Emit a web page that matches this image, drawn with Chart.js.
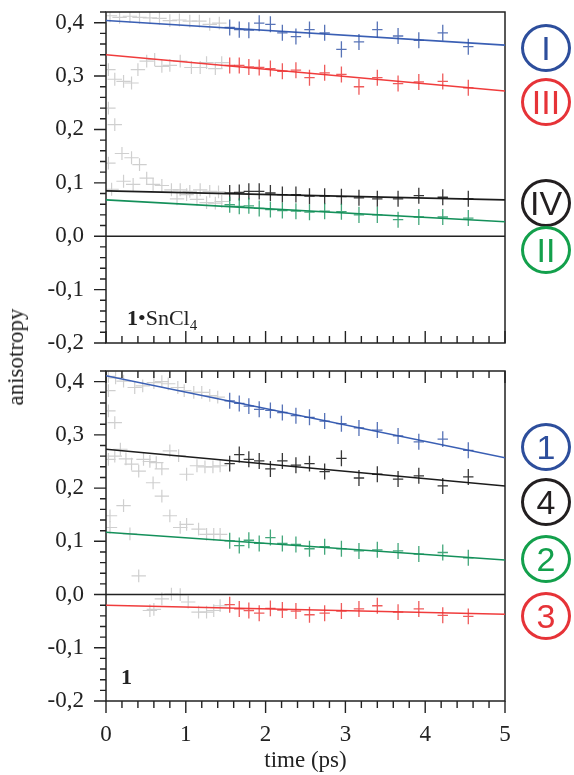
<!DOCTYPE html>
<html>
<head>
<meta charset="utf-8">
<script src="https://cdn.jsdelivr.net/npm/chart.js@4.4.0/dist/chart.umd.min.js"></script>
<style>
  body { margin: 0; background: #fff; width: 574px; height: 775px; position: relative; overflow: hidden; font-family: "Liberation Serif", serif; color: #222; }
  canvas { position: absolute; left: 0; }
  #top { top: -40px; }
  #bot { top: 320px; }
  .ring { position: absolute; left: 521px; width: 44px; height: 42px; border: 3px solid; border-radius: 50%;
          text-align: center; font-family: "Liberation Sans", Arial, sans-serif; font-size: 34px; line-height: 43px; }
  .blue { color: #2d4e9c; border-color: #2d4e9c; }
  .red { color: #e63338; border-color: #e63338; }
  .black { color: #231f20; border-color: #231f20; }
  .green { color: #13a04c; border-color: #13a04c; }
  .tag { position: absolute; font-size: 22px; }
  #ylab { position: absolute; left: 16px; top: 357px; font-size: 23px; transform: translate(-50%, -50%) rotate(-90deg); white-space: nowrap; }
</style>
</head>
<body>
<canvas id="top" width="574" height="420"></canvas>
<canvas id="bot" width="574" height="455"></canvas>

<div id="ylab">anisotropy</div>
<div class="tag" style="left:127px; top:305px;"><b>1</b>•SnCl<sub style="font-size:15px;">4</sub></div>
<div class="tag" style="left:121px; top:664px;"><b>1</b></div>

<div class="ring blue" style="top:24px;">I</div>
<div class="ring red" style="top:78px;">III</div>
<div class="ring black" style="top:179px;">IV</div>
<div class="ring green" style="top:226px;">II</div>

<div class="ring blue" style="top:423px;">1</div>
<div class="ring black" style="top:478px;">4</div>
<div class="ring green" style="top:535px;">2</div>
<div class="ring red" style="top:592px;">3</div>

<script>
// delay times (ps) of the fitted window
var time = [1.55, 1.67, 1.79, 1.92, 2.06, 2.21, 2.38, 2.55, 2.74, 2.95, 3.17, 3.40, 3.66, 3.92, 4.22, 4.54];

// 1•SnCl4
var anisoI   = [0.391, 0.387, 0.386, 0.399, 0.397, 0.381, 0.374, 0.387, 0.381, 0.350, 0.364, 0.387, 0.375, 0.367, 0.381, 0.355];
var anisoII  = [0.059, 0.056, 0.057, 0.052, 0.050, 0.048, 0.047, 0.045, 0.047, 0.046, 0.040, 0.040, 0.031, 0.036, 0.036, 0.034];
var anisoIII = [0.320, 0.320, 0.317, 0.316, 0.314, 0.309, 0.311, 0.297, 0.306, 0.303, 0.280, 0.297, 0.286, 0.289, 0.290, 0.278];
var anisoIV  = [0.081, 0.082, 0.084, 0.084, 0.081, 0.078, 0.078, 0.075, 0.075, 0.074, 0.072, 0.070, 0.070, 0.076, 0.073, 0.070];

// 1
var aniso1 = [0.364, 0.359, 0.354, 0.348, 0.346, 0.342, 0.336, 0.333, 0.326, 0.321, 0.313, 0.309, 0.298, 0.287, 0.292, 0.271];
var aniso2 = [0.101, 0.092, 0.102, 0.096, 0.107, 0.096, 0.094, 0.086, 0.090, 0.086, 0.082, 0.084, 0.082, 0.076, 0.079, 0.069];
var aniso3 = [-0.019, -0.027, -0.030, -0.035, -0.026, -0.029, -0.031, -0.038, -0.035, -0.031, -0.027, -0.021, -0.033, -0.027, -0.039, -0.041];
var aniso4 = [0.246, 0.263, 0.254, 0.251, 0.236, 0.251, 0.243, 0.246, 0.231, 0.256, 0.219, 0.226, 0.217, 0.223, 0.204, 0.221];

// linear fits, value at t = 0 and t = 5
var fitEnds = [0, 5];
var fitI = [0.404, 0.358], fitII = [0.068, 0.027], fitIII = [0.340, 0.272], fitIV = [0.085, 0.068];
var fit1 = [0.411, 0.257], fit2 = [0.117, 0.065], fit3 = [-0.020, -0.037], fit4 = [0.273, 0.204];

// early times left out of the fits (grey)
var earlyTopT = [0.05, 0.17, 0.30, 0.42, 0.55, 0.67, 0.80, 0.92, 1.05, 1.17, 1.30, 1.42,
                 0.03, 0.11, 0.22, 0.32, 0.40, 0.51, 0.61, 0.70, 0.80, 0.93, 1.07, 1.18, 1.26, 1.37, 1.45,
                 0.03, 0.11, 0.03, 0.20, 0.32, 0.42,
                 0.07, 0.22, 0.34, 0.51, 0.59, 0.70, 0.82, 0.93, 1.05, 1.18, 1.30, 1.41,
                 0.89, 1.01, 1.14, 1.26, 1.37, 1.45];
var earlyTopV = [0.413, 0.410, 0.412, 0.410, 0.409, 0.408, 0.404, 0.405, 0.403, 0.403, 0.397, 0.399,
                 0.312, 0.294, 0.290, 0.287, 0.312, 0.328, 0.331, 0.318, 0.320, 0.328, 0.316, 0.316, 0.325, 0.314, 0.325,
                 0.240, 0.209, 0.137, 0.155, 0.147, 0.134,
                 0.088, 0.103, 0.097, 0.109, 0.097, 0.095, 0.087, 0.087, 0.084, 0.087, 0.084, 0.083,
                 0.070, 0.078, 0.069, 0.063, 0.062, 0.065];
var earlyBotT = [0.03, 0.12, 0.22, 0.36, 0.46, 0.60, 0.70, 0.78, 0.90, 0.98, 1.10, 1.20, 1.30, 1.40, 0.03, 0.03, 0.11,
                 0.03, 0.11, 0.18, 0.25, 0.32, 0.41, 0.47, 0.55, 0.63, 0.70, 0.80, 0.91, 1.01, 1.14, 1.24, 1.34, 1.43,
                 0.05, 0.05, 0.22, 0.59, 0.70, 0.80, 0.93, 1.01, 1.16, 1.26, 1.35, 1.43, 0.30, 0.41,
                 0.55, 0.60, 0.70, 0.82, 0.93, 1.03, 1.16, 1.26, 1.35, 1.43];
var earlyBotV = [0.410, 0.407, 0.401, 0.389, 0.392, 0.398, 0.400, 0.396, 0.389, 0.383, 0.380, 0.380, 0.374, 0.371, 0.383, 0.345, 0.323,
                 0.254, 0.260, 0.273, 0.255, 0.245, 0.232, 0.254, 0.250, 0.248, 0.236, 0.270, 0.261, 0.226, 0.242, 0.240, 0.240, 0.242,
                 0.148, 0.126, 0.167, 0.210, 0.185, 0.148, 0.126, 0.132, 0.123, 0.113, 0.113, 0.113, 0.114, 0.035,
                 -0.030, -0.028, -0.008, 0.001, 0.000, -0.014, -0.033, -0.033, -0.030, -0.021];

var yTicks = [-0.2, -0.1, 0, 0.1, 0.2, 0.3, 0.4];
var xTicks = [0, 1, 2, 3, 4, 5];

function pts(t, v) {
    return t.map(function (x, i) { return { x: x, y: v[i] }; });
}

function points(vals, color) {
    return { data: pts(time, vals), pointRadius: 0, showLine: false,
             err: { dx: 0.065, dy: 0.015, color: color, width: 1.3 } };
}

function early(t, v) {
    return { data: pts(t, v), pointRadius: 0, showLine: false,
             err: { dx: 0.09, dy: 0.012, color: '#cfcfcf', width: 1.2, under: true } };
}

function fit(ends, color) {
    return { data: pts(fitEnds, ends), showLine: true, borderColor: color, borderWidth: 1.6, pointRadius: 0 };
}

function drawCrosses(chart, under) {
    var ctx = chart.ctx, a = chart.chartArea, x = chart.scales.x, y = chart.scales.y;
    ctx.save();
    ctx.beginPath();
    ctx.rect(a.left, a.top, a.right - a.left, a.bottom - a.top);
    ctx.clip();
    chart.data.datasets.forEach(function (ds) {
        if (!ds.err || !!ds.err.under !== under) return;
        ctx.strokeStyle = ds.err.color;
        ctx.lineWidth = ds.err.width;
        ds.data.forEach(function (p) {
            var px = x.getPixelForValue(p.x), py = y.getPixelForValue(p.y);
            var hx = x.getPixelForValue(p.x + ds.err.dx) - px;
            var hy = py - y.getPixelForValue(p.y + ds.err.dy);
            ctx.beginPath();
            ctx.moveTo(px - hx, py); ctx.lineTo(px + hx, py);
            ctx.moveTo(px, py - hy); ctx.lineTo(px, py + hy);
            ctx.stroke();
        });
    });
    ctx.restore();
}

// frame, zero line, tick marks and error crosses
var panelDraw = {
    id: 'panelDraw',
    beforeDatasetsDraw: function (chart, args, o) {
        var ctx = chart.ctx, a = chart.chartArea, x = chart.scales.x, y = chart.scales.y;
        drawCrosses(chart, true);
        ctx.save();
        ctx.strokeStyle = '#222';
        ctx.lineWidth = 1.5;
        ctx.strokeRect(a.left, a.top, a.right - a.left, a.bottom - a.top);
        var y0 = y.getPixelForValue(0);
        ctx.beginPath(); ctx.moveTo(a.left, y0); ctx.lineTo(a.right, y0); ctx.stroke();

        ctx.lineWidth = 1.4;
        ctx.beginPath();
        for (var i = 0; i <= 31; i++) {
            var py = y.getPixelForValue(-0.2 + i * 0.02);
            ctx.moveTo(a.left, py);
            ctx.lineTo(a.left - (i % 5 === 0 ? 12 : 6), py);
        }
        for (var j = 0; j <= 25; j++) {
            var px = x.getPixelForValue(j * 0.2);
            var len = j % 5 === 0 ? 12 : 7;
            if (o.bottom === 'in') { ctx.moveTo(px, a.bottom); ctx.lineTo(px, a.bottom - len); }
            if (o.bottom === 'out') { ctx.moveTo(px, a.bottom); ctx.lineTo(px, a.bottom + len); }
            if (o.top === 'in') { ctx.moveTo(px, a.top); ctx.lineTo(px, a.top + len); }
        }
        ctx.stroke();
        ctx.restore();
    },
    afterDatasetsDraw: function (chart) {
        drawCrosses(chart, false);
    }
};

var serif = { family: 'Liberation Serif', size: 23 };

function yScale() {
    return {
        min: -0.2, max: 0.42,
        afterBuildTicks: function (s) { s.ticks = yTicks.map(function (v) { return { value: v }; }); },
        afterFit: function (s) { s.width = 106; },
        grid: { display: false, drawTicks: false },
        border: { display: false },
        ticks: { padding: 22, color: '#222', font: serif,
                 callback: function (v) { return v.toFixed(1).replace('.', ','); } }
    };
}

new Chart(document.getElementById('top').getContext('2d'), {
    type: 'scatter',
    data: {
        datasets: [
            early(earlyTopT, earlyTopV),
            fit(fitI, '#3a5fb4'), fit(fitIII, '#f03c3c'), fit(fitIV, '#1c1c1c'), fit(fitII, '#14905a'),
            points(anisoI, 'rgba(45,80,165,0.8)'), points(anisoIII, 'rgba(235,50,50,0.8)'),
            points(anisoIV, 'rgba(20,20,20,0.85)'), points(anisoII, 'rgba(20,145,90,0.8)')
        ]
    },
    options: {
        responsive: false,
        animation: false,
        layout: { padding: { top: 52, right: 69, bottom: 37, left: 0 } },
        plugins: { legend: { display: false }, tooltip: { enabled: false }, panelDraw: { bottom: 'in' } },
        scales: {
            x: { type: 'linear', min: 0, max: 5, display: false },
            y: yScale()
        }
    },
    plugins: [panelDraw]
});

new Chart(document.getElementById('bot').getContext('2d'), {
    type: 'scatter',
    data: {
        datasets: [
            early(earlyBotT, earlyBotV),
            fit(fit1, '#3a5fb4'), fit(fit4, '#1c1c1c'), fit(fit2, '#14905a'), fit(fit3, '#f03c3c'),
            points(aniso1, 'rgba(45,80,165,0.8)'), points(aniso4, 'rgba(20,20,20,0.85)'),
            points(aniso2, 'rgba(20,145,90,0.8)'), points(aniso3, 'rgba(235,50,50,0.8)')
        ]
    },
    options: {
        responsive: false,
        animation: false,
        layout: { padding: { top: 51, right: 69, bottom: 0, left: 0 } },
        plugins: { legend: { display: false }, tooltip: { enabled: false }, panelDraw: { top: 'in', bottom: 'out' } },
        scales: {
            x: {
                type: 'linear', min: 0, max: 5,
                afterBuildTicks: function (s) { s.ticks = xTicks.map(function (v) { return { value: v }; }); },
                afterFit: function (s) { s.height = 74; },
                grid: { display: false, drawTicks: false },
                border: { display: false },
                ticks: { padding: 20, color: '#222', font: serif, maxRotation: 0 },
                title: { display: true, text: 'time (ps)', color: '#222', font: serif, padding: 0 }
            },
            y: yScale()
        }
    },
    plugins: [panelDraw]
});
</script>
</body>
</html>
